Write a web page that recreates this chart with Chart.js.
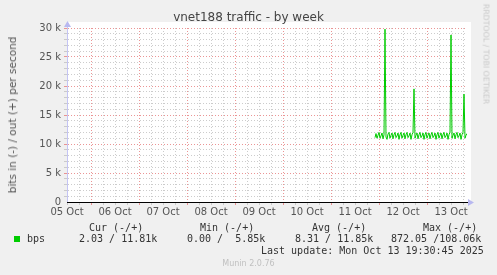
<!DOCTYPE html>
<html>
<head>
<meta charset="utf-8">
<script src="https://cdn.jsdelivr.net/npm/chart.js@4"></script>
<style>
  body { margin: 0; background: #f0f0f0; }
  #wrap { position: relative; width: 497px; height: 275px; background: #f0f0f0; overflow: hidden; }
  #c { position: absolute; left: 0; top: 0; }
  .t { position: absolute; white-space: pre; font-family: "DejaVu Sans", sans-serif; }
  .m { position: absolute; white-space: pre; font-family: "DejaVu Sans Mono", monospace; font-size: 10px; color: #333; line-height: 12px; }
</style>
</head>
<body>
<div id="wrap">
  <canvas id="c" width="497" height="275"></canvas>
  <div class="t" style="left:0;width:497px;top:10px;text-align:center;font-size:12px;color:#444;">vnet188 traffic - by week</div>
  <div class="t" style="left:12px;top:115px;font-size:10.5px;color:#555;transform:translate(-50%,-50%) rotate(-90deg);">bits in (-) / out (+) per second</div>
  <div class="t" style="left:486px;top:54px;font-size:7.8px;color:#c8c8c8;transform:translate(-50%,-50%) rotate(90deg);">RRDTOOL / TOBI OETIKER</div>

  <div class="m" style="left:89px;top:222px;">Cur (-/+)</div>
  <div class="m" style="left:200px;top:222px;">Min (-/+)</div>
  <div class="m" style="left:312px;top:222px;">Avg (-/+)</div>
  <div class="m" style="left:423px;top:222px;">Max (-/+)</div>

  <div style="position:absolute;left:14px;top:236px;width:6px;height:6px;background:#00cc00;"></div>
  <div class="m" style="left:27px;top:233px;">bps</div>
  <div class="m" style="left:79px;top:233px;">2.03 / 11.81k</div>
  <div class="m" style="left:187px;top:233px;">0.00 /  5.85k</div>
  <div class="m" style="left:295px;top:233px;">8.31 / 11.85k</div>
  <div class="m" style="left:391px;top:233px;">872.05 /108.06k</div>

  <div class="m" style="left:261px;top:245px;">Last update: Mon Oct 13 19:30:45 2025</div>
  <div class="t" style="left:0;width:497px;top:259px;text-align:center;font-size:8px;color:#c0c0c0;">Munin 2.0.76</div>
</div>
<script>
// time axis in hours since 05 Oct 00:00, one sample every 30 min
const startHour = 12;
const endHour = 212;
const dataStartHour = 166;
const stepHours = 0.5;
const dayLabels = ['05 Oct', '06 Oct', '07 Oct', '08 Oct', '09 Oct', '10 Oct', '11 Oct', '12 Oct', '13 Oct'];
const yTicks = [0, 5, 10, 15, 20, 25, 30];

// out (+) traffic, kbit/s
const outValues = [
  11.1, 11.8, 11.0, 11.5, 12.0, 11.0, 11.4, 11.9, 10.9, 11.6,
  29.8,
  11.2, 10.8, 11.7, 12.0, 11.0, 11.5, 11.9, 10.9, 11.6,
  12.0, 11.1, 11.4, 11.9, 10.8, 11.6, 12.0, 11.0, 11.5, 11.9,
  10.9, 11.6, 12.0, 11.1, 11.4, 11.9, 10.8, 11.6, 12.0,
  19.5,
  11.0, 11.5, 11.9, 10.9, 11.6, 12.0, 11.1, 11.4, 11.9, 10.8,
  11.6, 12.0, 11.0, 11.5, 11.9, 10.9, 11.6, 12.0, 11.1, 11.4,
  11.9, 10.8, 11.6, 12.0, 11.0, 11.5, 11.9, 10.9, 11.6, 12.0,
  11.1, 11.4, 11.9, 10.8, 11.6, 12.0,
  28.8,
  11.0, 11.5, 11.9, 10.9, 11.6, 12.0, 11.1, 11.4, 11.9, 10.8, 11.6, 12.0,
  18.6,
  11.0, 11.5, 11.81
];

const points = outValues.map((v, i) => ({ x: dataStartHour + i * stepHours, y: v }));

const RED = 'rgba(232,130,130,0.85)';
const GRAY = 'rgba(195,195,195,0.85)';

const decor = {
  id: 'decor',
  beforeDraw(chart) {
    const { ctx, chartArea: a } = chart;
    ctx.save();
    ctx.fillStyle = '#ffffff';
    ctx.fillRect(a.left, a.top - 6, a.right - a.left + 4, a.bottom - a.top + 6);
    ctx.restore();
  },
  afterDraw(chart) {
    const { ctx, chartArea: a } = chart;
    ctx.save();
    // solid axes
    ctx.lineWidth = 1;
    ctx.strokeStyle = '#c4c4f4';
    ctx.beginPath();
    ctx.moveTo(a.left + 0.5, a.bottom);
    ctx.lineTo(a.left + 0.5, a.top - 2);
    ctx.stroke();
    ctx.strokeStyle = '#000';
    ctx.beginPath();
    ctx.moveTo(a.left, a.bottom + 0.5);
    ctx.lineTo(a.right + 1, a.bottom + 0.5);
    ctx.stroke();
    ctx.fillStyle = '#b8b8f0';
    // y arrow
    ctx.beginPath();
    ctx.moveTo(a.left - 3, a.top - 1);
    ctx.lineTo(a.left + 4, a.top - 1);
    ctx.lineTo(a.left + 0.5, a.top - 7);
    ctx.fill();
    // x arrow
    ctx.beginPath();
    ctx.moveTo(a.right + 1, a.bottom - 3);
    ctx.lineTo(a.right + 1, a.bottom + 4);
    ctx.lineTo(a.right + 7, a.bottom + 0.5);
    ctx.fill();
    ctx.restore();
  }
};

new Chart(document.getElementById('c'), {
  type: 'line',
  data: {
    datasets: [{
      label: 'bps',
      data: points,
      borderColor: '#00cc00',
      borderWidth: 1,
      pointRadius: 0,
      tension: 0,
      fill: false
    }]
  },
  options: {
    responsive: false,
    devicePixelRatio: 1,
    animation: false,
    layout: { padding: { top: 28, right: 30, bottom: 53, left: 0 } },
    plugins: { legend: { display: false }, tooltip: { enabled: false }, title: { display: false } },
    scales: {
      x: {
        type: 'linear',
        min: startHour,
        max: endHour,
        afterFit(scale) { scale.height = 20; },
        afterBuildTicks(scale) {
          const t = [];
          for (let h = startHour; h < endHour; h += 6) t.push({ value: h });
          scale.ticks = t;
        },
        ticks: {
          autoSkip: false,
          maxRotation: 0,
          padding: 1,
          color: '#555',
          font: { family: 'DejaVu Sans', size: 10 },
          callback: (v) => (v % 24 === 12 ? dayLabels[Math.floor(v / 24)] : '')
        },
        grid: {
          drawTicks: true,
          tickLength: 3,
          lineWidth: 1,
          color: (c) => (c.tick && c.tick.value % 24 === 0 ? RED : GRAY)
        },
        border: { display: true, color: 'rgba(0,0,0,0)', width: 1, dash: [1, 2] }
      },
      y: {
        min: 0,
        max: 30,
        afterFit(scale) { scale.width = 67; },
        afterBuildTicks(scale) {
          const t = [];
          for (let v = 0; v <= 30; v += 1) t.push({ value: v });
          scale.ticks = t;
        },
        ticks: {
          autoSkip: false,
          padding: 3,
          color: '#555',
          font: { family: 'DejaVu Sans', size: 10 },
          callback: (v) => (yTicks.includes(v) ? (v === 0 ? '0' : v + ' k') : '')
        },
        grid: {
          drawTicks: true,
          tickLength: 3,
          lineWidth: 1,
          color: (c) => {
            if (!c.tick) return GRAY;
            if (c.tick.value === 0) return 'rgba(0,0,0,0)';
            return c.tick.value % 5 === 0 ? RED : GRAY;
          }
        },
        border: { display: true, color: 'rgba(0,0,0,0)', width: 1, dash: [1, 2] }
      }
    }
  },
  plugins: [decor]
});
</script>
</body>
</html>
